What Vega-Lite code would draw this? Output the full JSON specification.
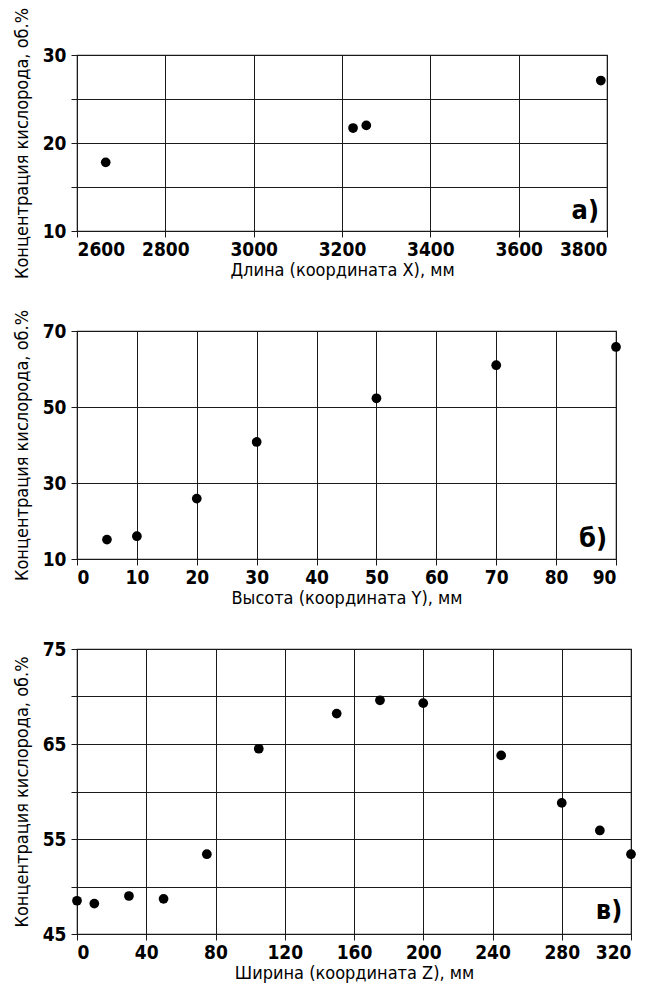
{
  "$schema": "https://vega.github.io/schema/vega-lite/v6.json",
  "background": "white",
  "padding": {"left": 12, "top": 6, "right": 5, "bottom": 0},
  "bounds": "flush",
  "spacing": 100,
  "datasets": {
    "panelA": [
      {"x": 2665, "c": 17.8},
      {"x": 3225, "c": 21.7},
      {"x": 3255, "c": 22.0},
      {"x": 3786, "c": 27.1}
    ],
    "panelB": [
      {"y": 5, "c": 15.1},
      {"y": 10, "c": 16.0},
      {"y": 20, "c": 25.9},
      {"y": 30, "c": 40.8},
      {"y": 50, "c": 52.3},
      {"y": 70, "c": 61.0},
      {"y": 90, "c": 65.8}
    ],
    "panelC": [
      {"z": 0, "c": 48.5},
      {"z": 10, "c": 48.2},
      {"z": 30, "c": 49.0},
      {"z": 50, "c": 48.7},
      {"z": 75, "c": 53.4},
      {"z": 105, "c": 64.5},
      {"z": 150, "c": 68.2},
      {"z": 175, "c": 69.6},
      {"z": 200, "c": 69.3},
      {"z": 245, "c": 63.8},
      {"z": 280, "c": 58.8},
      {"z": 302, "c": 55.9},
      {"z": 320, "c": 53.4}
    ]
  },
  "config": {
    "font": "DejaVu Sans Condensed, Liberation Sans, sans-serif",
    "view": {"stroke": "#222222", "strokeWidth": 1.2},
    "axis": {
      "grid": true,
      "gridColor": "#1a1a1a",
      "gridOpacity": 1,
      "gridWidth": 1,
      "domain": false,
      "ticks": true,
      "tickColor": "#1a1a1a",
      "tickSize": 6,
      "labelFont": "DejaVu Sans Condensed, Liberation Sans, sans-serif",
      "labelFontWeight": "bold",
      "labelFontSize": 19,
      "labelColor": "#000000",
      "titleFont": "DejaVu Sans Condensed, Liberation Sans, sans-serif",
      "titleFontWeight": "normal",
      "titleFontSize": 18,
      "titleColor": "#000000",
      "labelPadding": 3,
      "labelOverlap": false
    },
    "axisY": {"titlePadding": 11, "labelPadding": 5},
    "axisX": {"titlePadding": 2}
  },
  "vconcat": [
    {
      "width": 530,
      "height": 176,
      "layer": [
        {
          "data": {"name": "panelA"},
          "mark": {"type": "point", "filled": true, "color": "#000000", "opacity": 1, "size": 95},
          "encoding": {
            "x": {"field": "x", "type": "quantitative", "scale": {"domain": [2600, 3800], "nice": false},
              "axis": {"title": "Длина (координата X), мм", "values": [2600, 2800, 3000, 3200, 3400, 3600, 3800], "format": "d"}},
            "y": {"field": "c", "type": "quantitative", "scale": {"domain": [10, 30], "nice": false},
              "axis": {"title": "Концентрация кислорода, об.%", "values": [10, 15, 20, 25, 30], "labelExpr": "datum.value % 10 == 0 ? datum.label : ''"}}
          }
        },
        {
          "data": {"values": [{"t": "а)"}]},
          "mark": {"type": "text", "align": "right", "baseline": "alphabetic", "fontSize": 27, "fontWeight": "bold", "color": "#000000"},
          "encoding": {
            "x": {"datum": 3782, "type": "quantitative"},
            "y": {"datum": 11.4, "type": "quantitative"},
            "text": {"field": "t"}
          }
        }
      ]
    },
    {
      "bounds": "flush",
      "spacing": 90,
      "vconcat": [
        {
          "width": 539,
          "height": 228,
          "layer": [
            {
              "data": {"name": "panelB"},
              "mark": {"type": "point", "filled": true, "color": "#000000", "opacity": 1, "size": 95},
              "encoding": {
                "x": {"field": "y", "type": "quantitative", "scale": {"domain": [0, 90], "nice": false},
                  "axis": {"title": "Высота (координата Y), мм", "values": [0, 10, 20, 30, 40, 50, 60, 70, 80, 90]}},
                "y": {"field": "c", "type": "quantitative", "scale": {"domain": [10, 70], "nice": false},
                  "axis": {"title": "Концентрация кислорода, об.%", "values": [10, 20, 30, 40, 50, 60, 70], "labelExpr": "(datum.value - 10) % 20 == 0 ? datum.label : ''"}}
              }
            },
            {
              "data": {"values": [{"t": "б)"}]},
              "mark": {"type": "text", "align": "right", "baseline": "alphabetic", "fontSize": 27, "fontWeight": "bold", "color": "#000000"},
              "encoding": {
                "x": {"datum": 88.5, "type": "quantitative"},
                "y": {"datum": 13.2, "type": "quantitative"},
                "text": {"field": "t"}
              }
            }
          ]
        },
        {
          "width": 554,
          "height": 285,
          "layer": [
            {
              "data": {"name": "panelC"},
              "mark": {"type": "point", "filled": true, "color": "#000000", "opacity": 1, "size": 95},
              "encoding": {
                "x": {"field": "z", "type": "quantitative", "scale": {"domain": [0, 320], "nice": false},
                  "axis": {"title": "Ширина (координата Z), мм", "values": [0, 40, 80, 120, 160, 200, 240, 280, 320]}},
                "y": {"field": "c", "type": "quantitative", "scale": {"domain": [45, 75], "nice": false},
                  "axis": {"title": "Концентрация кислорода, об.%", "values": [45, 50, 55, 60, 65, 70, 75], "labelExpr": "(datum.value - 45) % 10 == 0 ? datum.label : ''"}}
              }
            },
            {
              "data": {"values": [{"t": "в)"}]},
              "mark": {"type": "text", "align": "right", "baseline": "alphabetic", "fontSize": 27, "fontWeight": "bold", "color": "#000000"},
              "encoding": {
                "x": {"datum": 315, "type": "quantitative"},
                "y": {"datum": 46.6, "type": "quantitative"},
                "text": {"field": "t"}
              }
            }
          ]
        }
      ]
    }
  ]
}
